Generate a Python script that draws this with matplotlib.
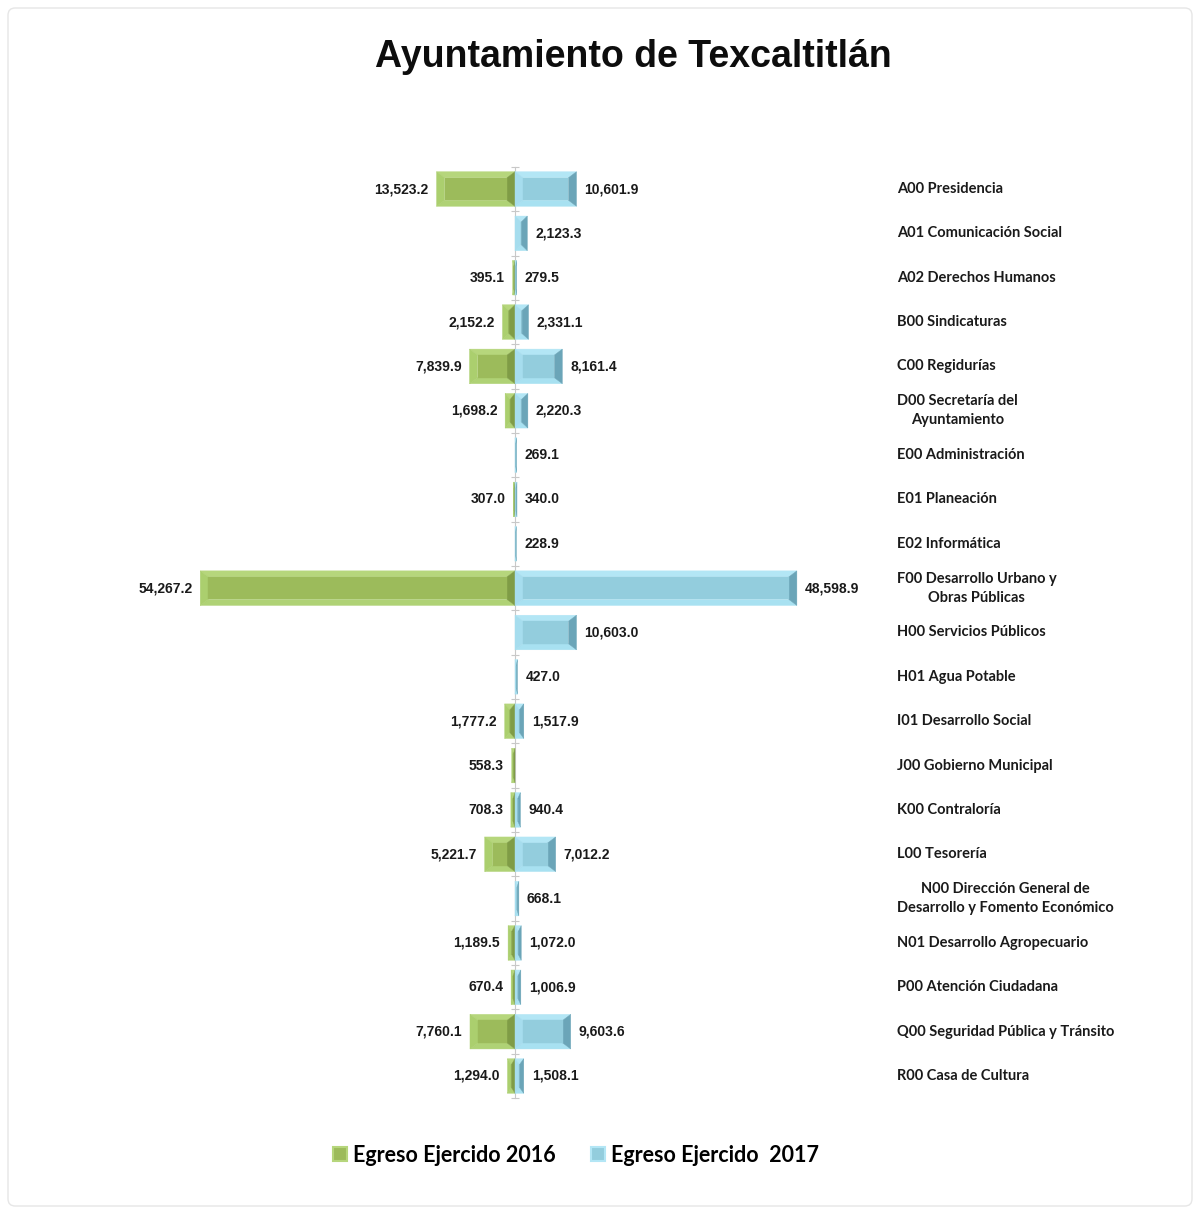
import matplotlib
matplotlib.use("Agg")
import matplotlib.pyplot as plt
from matplotlib.patches import Polygon, Patch, FancyBboxPatch
import numpy as np

categories = [
    "A00 Presidencia", "A01 Comunicación Social", "A02 Derechos Humanos",
    "B00 Sindicaturas", "C00 Regidurías", "D00 Secretaría del\nAyuntamiento",
    "E00 Administración", "E01 Planeación", "E02 Informática",
    "F00 Desarrollo Urbano y\nObras Públicas", "H00 Servicios Públicos",
    "H01 Agua Potable", "I01 Desarrollo Social", "J00 Gobierno Municipal",
    "K00 Contraloría", "L00 Tesorería",
    "N00 Dirección General de\nDesarrollo y Fomento Económico",
    "N01 Desarrollo Agropecuario", "P00 Atención Ciudadana",
    "Q00 Seguridad Pública y Tránsito", "R00 Casa de Cultura",
]
egreso_2016 = [13523.2, None, 395.1, 2152.2, 7839.9, 1698.2, None, 307.0, None,
               54267.2, None, None, 1777.2, 558.3, 708.3, 5221.7, None, 1189.5,
               670.4, 7760.1, 1294.0]
egreso_2017 = [10601.9, 2123.3, 279.5, 2331.1, 8161.4, 2220.3, 269.1, 340.0, 228.9,
               48598.9, 10603.0, 427.0, 1517.9, None, 940.4, 7012.2, 668.1, 1072.0,
               1006.9, 9603.6, 1508.1]
series_names = ["Egreso Ejercido 2016", "Egreso Ejercido  2017"]

W, H = 1200, 1212
fig = plt.figure(figsize=(W / 100, H / 100), dpi=100)
fig.patch.set_facecolor("white")

# light frame around the chart area
frame = FancyBboxPatch((8 / W, 6 / H), 1184 / W, 1198 / H,
                       boxstyle="round,pad=0,rounding_size=0.006",
                       transform=fig.transFigure, facecolor="white",
                       edgecolor="#e6e6e6", linewidth=1.0, zorder=-10)
fig.patches.append(frame)

ax_l, ax_r, ax_t, ax_b = 120, 880, 160, 1100
ax = fig.add_axes([ax_l / W, 1 - ax_b / H, (ax_r - ax_l) / W, (ax_b - ax_t) / H])
scale = 0.0058  # px per unit
zero_px = 515
xlim = (-(zero_px - ax_l) / scale, (ax_r - zero_px) / scale)
n = len(categories)
row0_px, rowN_px = 189, 1076
sp = (rowN_px - row0_px) / (n - 1)
ylim = (n - 1 + (ax_b - rowN_px) / sp, -(row0_px - ax_t) / sp)
ax.set_xlim(*xlim)
ax.set_ylim(*ylim)
ax.set_facecolor("none")

for s in ["top", "right", "bottom"]:
    ax.spines[s].set_visible(False)
ax.spines["left"].set_position(("data", 0))
ax.spines["left"].set_bounds(-0.5, n - 0.5)
ax.spines["left"].set_color("#c8c8c8")
ax.spines["left"].set_linewidth(0.8)
ax.set_yticks(np.arange(-0.5, n, 1.0))
ax.set_yticklabels([])
ax.tick_params(axis="y", direction="inout", length=6, color="#c8c8c8", width=0.8)
ax.set_xticks([])

px_x = (xlim[1] - xlim[0]) / (ax_r - ax_l)   # data units per px (x)
px_y = (ylim[0] - ylim[1]) / (ax_b - ax_t)   # data units per px (y)
bar_h = 0.78

green = dict(center="#9cbb5b", top="#b6d67c", bottom="#afd275",
             left="#abcf6e", right="#7f9c46")
blue = dict(center="#93cddd", top="#b3e6f5", bottom="#a8e1f1",
            left="#a6ddee", right="#6ba5b8")


def bevel_bar(y, x0, x1, col):
    xa, xb = min(x0, x1), max(x0, x1)
    ya, yb = y - bar_h / 2, y + bar_h / 2  # ya is top (inverted axis)
    wpx = (xb - xa) / px_x
    ix = min(8, wpx / 2) * px_x
    iy = 6 * px_y
    xi0, xi1, yi0, yi1 = xa + ix, xb - ix, ya + iy, yb - iy
    polys = [
        ([(xa, ya), (xb, ya), (xi1, yi0), (xi0, yi0)], col["top"]),
        ([(xa, yb), (xb, yb), (xi1, yi1), (xi0, yi1)], col["bottom"]),
        ([(xa, ya), (xi0, yi0), (xi0, yi1), (xa, yb)], col["left"]),
        ([(xb, ya), (xi1, yi0), (xi1, yi1), (xb, yb)], col["right"]),
        ([(xi0, yi0), (xi1, yi0), (xi1, yi1), (xi0, yi1)], col["center"]),
    ]
    for pts, c in polys:
        ax.add_patch(Polygon(pts, closed=True, facecolor=c, edgecolor=c,
                             linewidth=0.3, zorder=3))


val_font = dict(family=["Liberation Sans", "DejaVu Sans"], fontweight="bold",
                fontsize=10, color="#1a1a1a")
for i, (v16, v17) in enumerate(zip(egreso_2016, egreso_2017)):
    if v16 is not None:
        bevel_bar(i, 0, -v16, green)
        ax.text(-v16 - 8 * px_x, i, f"{v16:,.1f}", ha="right", va="center", **val_font)
    if v17 is not None:
        bevel_bar(i, 0, v17, blue)
        ax.text(v17 + 8 * px_x, i, f"{v17:,.1f}", ha="left", va="center", **val_font)

cat_x = xlim[0] + (897 - ax_l) * px_x
for i, c in enumerate(categories):
    ax.text(cat_x, i, c, ha="left", va="center", multialignment="center",
            family=["Lato", "DejaVu Sans"], fontweight="bold", fontsize=10.5,
            color="#1a1a1a", linespacing=1.45, clip_on=False)

fig.text(633 / W, 1 - 57 / H, "Ayuntamiento de Texcaltitlán", ha="center", va="center",
         family=["Liberation Sans", "DejaVu Sans"], fontweight="bold", fontsize=27,
         color="#0d0d0d")

handles = [Patch(facecolor=green["center"], edgecolor=green["top"], linewidth=1.5),
           Patch(facecolor=blue["center"], edgecolor=blue["top"], linewidth=1.5)]
fig.legend(handles, series_names, loc="center", bbox_to_anchor=(576 / W, 1 - 1155 / H),
           ncol=2, frameon=False, handlelength=0.65, handleheight=0.65,
           handletextpad=0.3, columnspacing=1.6,
           prop=dict(family="Lato", weight="bold", size=15.5))

fig.savefig("out.png", dpi=100, facecolor="white")
